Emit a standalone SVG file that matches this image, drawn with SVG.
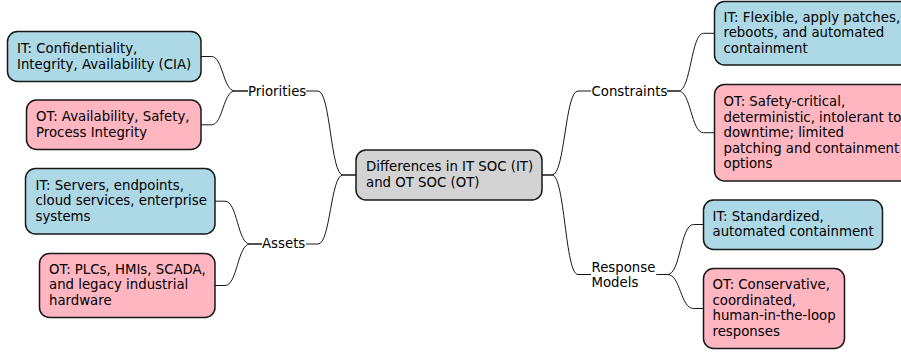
<svg xmlns="http://www.w3.org/2000/svg" width="901" height="352" viewBox="0 0 901 352">
<style>
text{font-family:"DejaVu Sans",sans-serif;font-size:13.3px;fill:#000}
.box{stroke:#181818;stroke-width:1.5}
.it{fill:#ADD8E6}
.ot{fill:#FFB6C1}
.root{fill:#D3D3D3}
.conn path{fill:none;stroke:#181818;stroke-width:1}
</style>
<rect width="901" height="352" fill="#fff"/>
<g id="connectors" class="conn">
<path d="M356,175 H343 C330.5,175 330.5,91 318,91 H306"/>
<path d="M356,175 H343 C330.5,175 330.5,244 318,244 H306"/>
<path d="M248,91 H235 C223,91 223,56.5 211.5,56.5 H201"/>
<path d="M248,91 H235 C223,91 223,124.8 211.5,124.8 H201"/>
<path d="M262,244 H250 C237.5,244 237.5,201.2 225,201.2 H215"/>
<path d="M262,244 H250 C237.5,244 237.5,285.5 225,285.5 H215"/>
<path d="M542,175 H552 C565,175 565,91 578,91 H591"/>
<path d="M542,175 H552 C565,175 565,274.5 578,274.5 H591"/>
<path d="M667,91 H678.5 C691,91 691,33.3 703.5,33.3 H714.5"/>
<path d="M667,91 H678.5 C691,91 691,132.7 703.5,132.7 H714.5"/>
<path d="M656.5,274.5 H667.5 C680.5,274.5 680.5,224.5 693.5,224.5 H703.5"/>
<path d="M656.5,274.5 H667.5 C680.5,274.5 680.5,308.5 693.5,308.5 H703.5"/>
</g>
<g id="root">
<rect class="box root" x="356" y="150" width="186" height="50" rx="10"/>
<text x="366" y="171">Differences in IT SOC (IT)</text>
<text x="366" y="186.5">and OT SOC (OT)</text>
</g>
<g id="priorities">
<text x="248" y="95.5">Priorities</text>
</g>
<g id="priorities-it">
<rect class="box it" x="7.5" y="31.5" width="193.5" height="50" rx="10"/>
<text x="17" y="53">IT: Confidentiality,</text>
<text x="17" y="68.5">Integrity, Availability (CIA)</text>
</g>
<g id="priorities-ot">
<rect class="box ot" x="26.5" y="100" width="174.5" height="49.5" rx="10"/>
<text x="36" y="121.3">OT: Availability, Safety,</text>
<text x="36" y="136.8">Process Integrity</text>
</g>
<g id="assets">
<text x="262" y="248">Assets</text>
</g>
<g id="assets-it">
<rect class="box it" x="25.5" y="168.5" width="189.5" height="65.5" rx="10"/>
<text x="35.5" y="189.5">IT: Servers, endpoints,</text>
<text x="35.5" y="205">cloud services, enterprise</text>
<text x="35.5" y="220.5">systems</text>
</g>
<g id="assets-ot">
<rect class="box ot" x="39.5" y="253.5" width="175.5" height="64" rx="10"/>
<text x="49" y="273.8">OT: PLCs, HMIs, SCADA,</text>
<text x="49" y="289.3">and legacy industrial</text>
<text x="49" y="304.8">hardware</text>
</g>
<g id="constraints">
<text x="591.5" y="95.5">Constraints</text>
</g>
<g id="constraints-it">
<rect class="box it" x="714.5" y="1.5" width="200" height="63.5" rx="10"/>
<text x="723.5" y="21.5">IT: Flexible, apply patches,</text>
<text x="723.5" y="37">reboots, and automated</text>
<text x="723.5" y="52.5">containment</text>
</g>
<g id="constraints-ot">
<rect class="box ot" x="714.5" y="84.5" width="200" height="96.5" rx="10"/>
<text x="723.5" y="106">OT: Safety-critical,</text>
<text x="723.5" y="121.5">deterministic, intolerant to</text>
<text x="723.5" y="137">downtime; limited</text>
<text x="723.5" y="152.5">patching and containment</text>
<text x="723.5" y="168">options</text>
</g>
<g id="response">
<text x="591.5" y="271.5">Response</text>
<text x="591.5" y="287">Models</text>
</g>
<g id="response-it">
<rect class="box it" x="703.5" y="200" width="179" height="49.5" rx="10"/>
<text x="712.5" y="220.5">IT: Standardized,</text>
<text x="712.5" y="236">automated containment</text>
</g>
<g id="response-ot">
<rect class="box ot" x="703.5" y="268.5" width="141" height="80" rx="10"/>
<text x="712.5" y="289">OT: Conservative,</text>
<text x="712.5" y="304.5">coordinated,</text>
<text x="712.5" y="320">human-in-the-loop</text>
<text x="712.5" y="335.5">responses</text>
</g>
</svg>
